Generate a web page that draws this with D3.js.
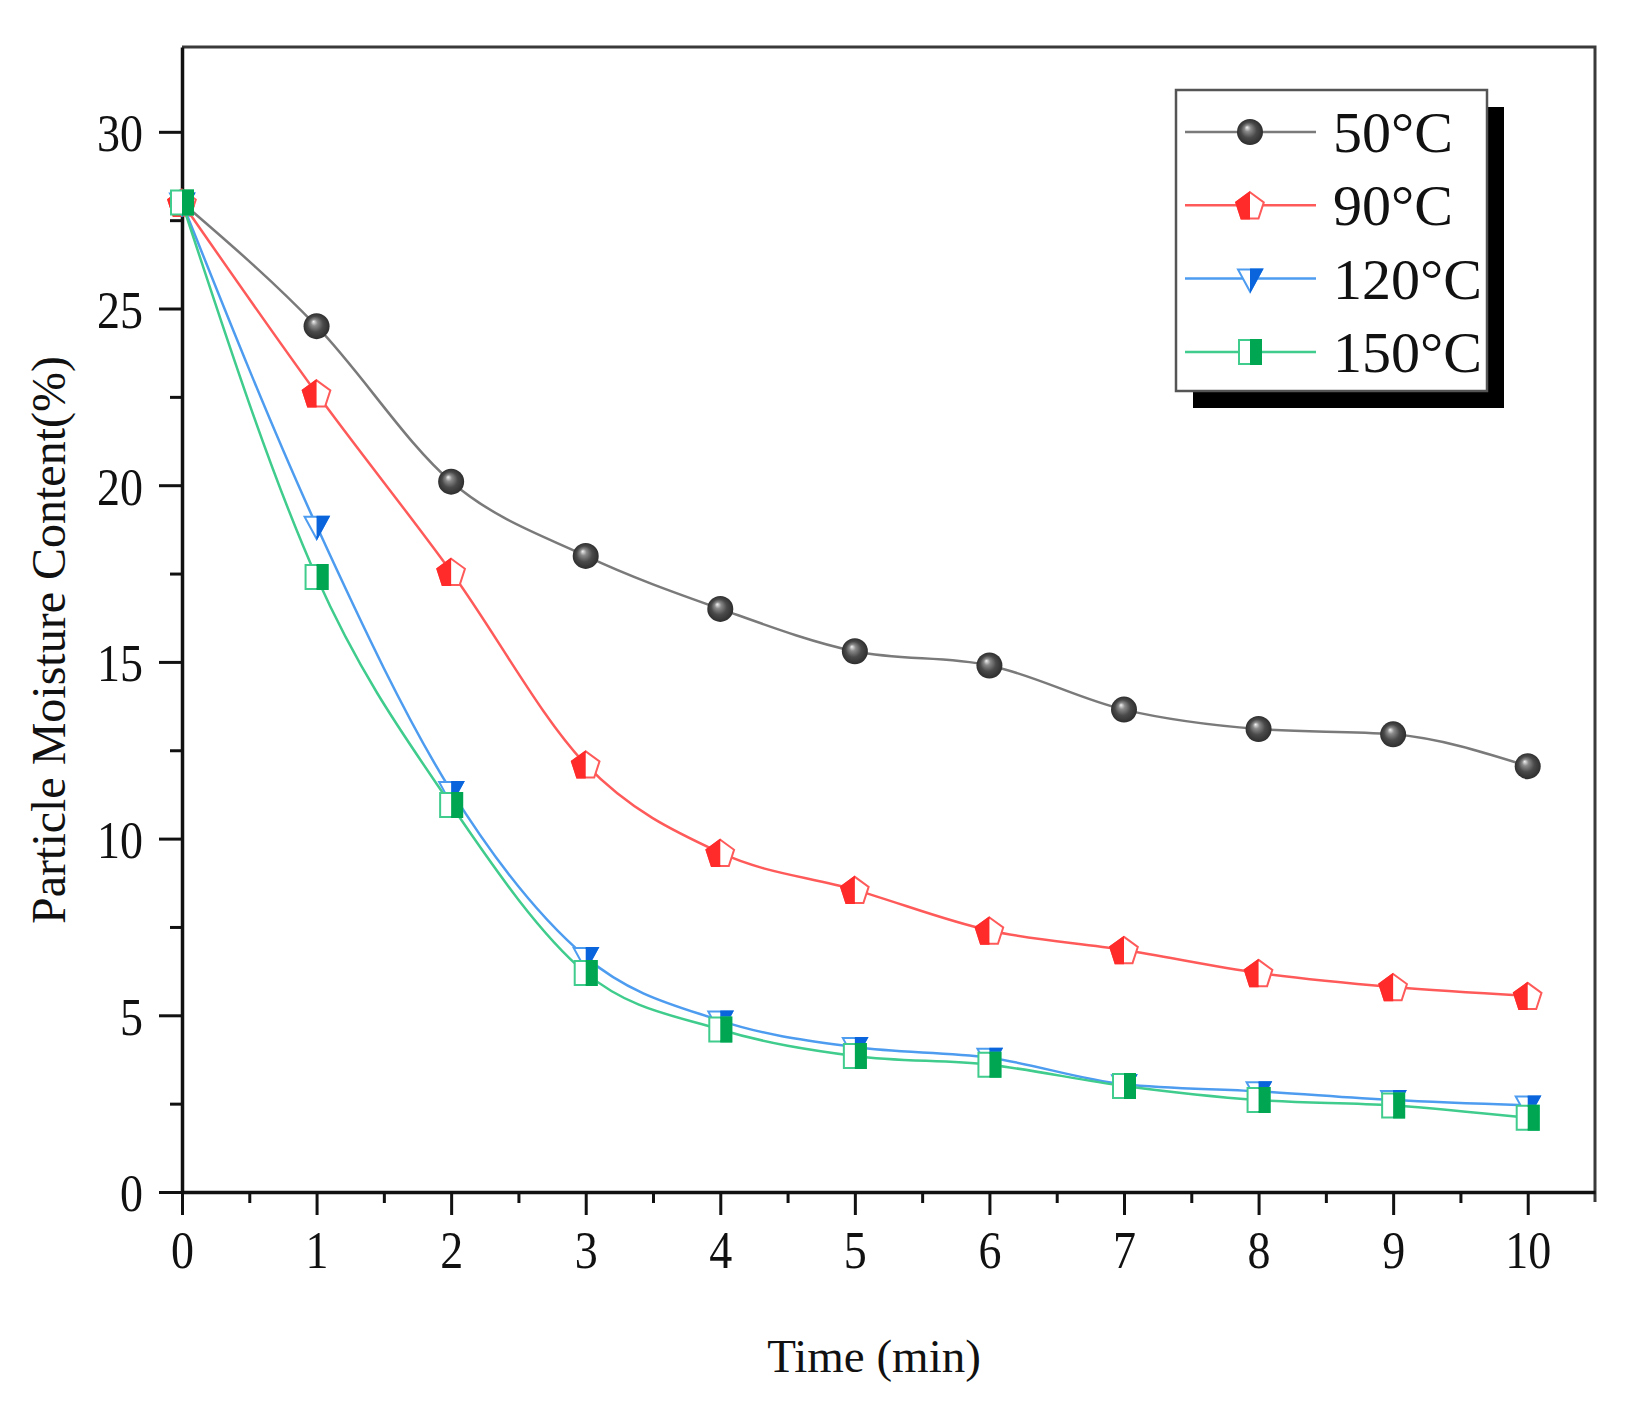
<!DOCTYPE html>
<html>
<head>
<meta charset="utf-8">
<script src="https://cdn.jsdelivr.net/npm/d3@7"></script>
<style>
  html, body { margin: 0; padding: 0; background: #fff; }
  svg { display: block; font-family: "Liberation Serif", "Times New Roman", serif; }
</style>
</head>
<body>
<svg id="chart" width="1631" height="1415"></svg>
<script>
// time in minutes
const times = [0, 1, 2, 3, 4, 5, 6, 7, 8, 9, 10];
// particle moisture content (%) for each drying temperature
const m50 = [28.0, 24.5, 20.1, 18.0, 16.5, 15.3, 14.9, 13.65, 13.1, 12.95, 12.05];
const m90 = [28.0, 22.6, 17.55, 12.1, 9.6, 8.55, 7.4, 6.85, 6.2, 5.8, 5.55];
const m120 = [28.0, 18.85, 11.35, 6.65, 4.85, 4.1, 3.8, 3.05, 2.85, 2.6, 2.45];
const m150 = [28.0, 17.4, 10.95, 6.2, 4.6, 3.85, 3.6, 3.0, 2.6, 2.45, 2.1];
const seriesNames = ["50°C", "90°C", "120°C", "150°C"];
const xTicks = [0, 1, 2, 3, 4, 5, 6, 7, 8, 9, 10];
const yTicks = [0, 5, 10, 15, 20, 25, 30];

const styles = [
  { line: "#7a7a7a", fill: "#3c3c3c", shape: "sphere" },
  { line: "#ff5a5a", fill: "#ff2b2b", shape: "pentagon", half: "left" },
  { line: "#4d9cf0", fill: "#0a64dc", shape: "triangle", half: "right" },
  { line: "#3fcc8c", fill: "#00a651", shape: "square", half: "right" },
];

const series = [m50, m90, m120, m150].map((vals, i) => ({
  name: seriesNames[i],
  style: styles[i],
  points: vals.map((v, j) => ({ t: times[j], v })),
}));

const dims = { left: 182, right: 1595, top: 47, bottom: 1192 };

const svg = d3.select("#chart");
const defs = svg.append("defs");

const grad = defs.append("radialGradient")
  .attr("id", "sphere-grad")
  .attr("cx", "0.5").attr("cy", "0.5").attr("r", "0.5")
  .attr("fx", "0.38").attr("fy", "0.32");
grad.append("stop").attr("offset", "0").attr("stop-color", "#f2f2f2");
grad.append("stop").attr("offset", "0.25").attr("stop-color", "#8a8a8a");
grad.append("stop").attr("offset", "0.6").attr("stop-color", "#4a4a4a");
grad.append("stop").attr("offset", "1").attr("stop-color", "#2e2e2e");

defs.append("clipPath").attr("id", "half-left")
  .append("rect").attr("x", -30).attr("y", -30).attr("width", 30).attr("height", 60);
defs.append("clipPath").attr("id", "half-right")
  .append("rect").attr("x", 0).attr("y", -30).attr("width", 30).attr("height", 60);

const x = d3.scaleLinear().domain([0, 10.5]).range([dims.left, dims.right]);
const y = d3.scaleLinear().domain([0, 32.4]).range([dims.bottom, dims.top]);

// frame (top and right)
svg.append("path")
  .attr("d", `M${dims.left},${dims.top}H${dims.right}V${dims.bottom + 10}`)
  .attr("fill", "none")
  .attr("stroke", "#3a3a3a")
  .attr("stroke-width", 3);

function stretchLabels(g, dx, dy, anchor) {
  g.selectAll(".tick text")
    .attr("x", 0).attr("y", 0).attr("dy", anchor === "end" ? "0.36em" : 0)
    .attr("text-anchor", anchor)
    .attr("transform", `translate(${dx},${dy}) scale(1,1.14)`)
    .attr("font-size", 46)
    .attr("font-family", "Liberation Serif, Times New Roman, serif")
    .attr("fill", "#111");
}

// minor ticks
svg.append("g")
  .attr("transform", `translate(0,${dims.bottom})`)
  .call(d3.axisBottom(x).tickValues(d3.range(0.5, 10.5, 1)).tickSize(11).tickFormat("").tickSizeOuter(0))
  .call((g) => g.select(".domain").remove())
  .call((g) => g.selectAll("line").attr("stroke", "#111").attr("stroke-width", 3));
svg.append("g")
  .attr("transform", `translate(${dims.left},0)`)
  .call(d3.axisLeft(y).tickValues(d3.range(2.5, 32.4, 5)).tickSize(12).tickFormat("").tickSizeOuter(0))
  .call((g) => g.select(".domain").remove())
  .call((g) => g.selectAll("line").attr("stroke", "#111").attr("stroke-width", 3));

// major axes
svg.append("g")
  .attr("transform", `translate(0,${dims.bottom})`)
  .call(d3.axisBottom(x).tickValues(xTicks).tickSize(23).tickSizeOuter(0))
  .call((g) => g.select(".domain").attr("stroke", "#111").attr("stroke-width", 3.5))
  .call((g) => g.selectAll("line").attr("stroke", "#111").attr("stroke-width", 3))
  .call((g) => stretchLabels(g, 0, 76, "middle"));
svg.append("g")
  .attr("transform", `translate(${dims.left},0)`)
  .call(d3.axisLeft(y).tickValues(yTicks).tickSize(23).tickSizeOuter(0))
  .call((g) => g.select(".domain").attr("stroke", "#111").attr("stroke-width", 3.5))
  .call((g) => g.selectAll("line").attr("stroke", "#111").attr("stroke-width", 3))
  .call((g) => stretchLabels(g, -39, 0, "end"));

// axis titles
svg.append("text")
  .attr("x", 874).attr("y", 1372)
  .attr("text-anchor", "middle")
  .attr("font-size", 47)
  .attr("fill", "#111")
  .text("Time (min)");
svg.append("text")
  .attr("transform", "translate(65,640) rotate(-90)")
  .attr("text-anchor", "middle")
  .attr("font-size", 48)
  .attr("fill", "#111")
  .text("Particle Moisture Content(%)");

function drawMarker(g, style) {
  if (style.shape === "sphere") {
    g.append("circle").attr("r", 13).attr("fill", "url(#sphere-grad)");
    return;
  }
  let d;
  if (style.shape === "pentagon") {
    const pts = d3.range(5).map((k) => {
      const a = -Math.PI / 2 + (k * 2 * Math.PI) / 5;
      return [14.5 * Math.cos(a), 14.5 * Math.sin(a) + 1.5];
    });
    d = d3.line()(pts) + "Z";
  } else if (style.shape === "triangle") {
    d = "M-12,-9L12,-9L0,13Z";
  } else {
    d = "M-11,-12H11V12H-11Z";
  }
  g.append("path").attr("d", d)
    .attr("fill", "#fff")
    .attr("stroke", style.line)
    .attr("stroke-width", 2);
  g.append("path").attr("d", d)
    .attr("fill", style.fill)
    .attr("stroke", style.fill)
    .attr("stroke-width", 2)
    .attr("clip-path", `url(#half-${style.half})`);
}

const line = d3.line()
  .x((d) => x(d.t))
  .y((d) => y(d.v))
  .curve(d3.curveMonotoneX);

const gSeries = svg.append("g").attr("class", "series");
series.forEach((s) => {
  const g = gSeries.append("g");
  g.append("path")
    .attr("d", line(s.points))
    .attr("fill", "none")
    .attr("stroke", s.style.line)
    .attr("stroke-width", 2.5);
  g.selectAll(".marker")
    .data(s.points)
    .join("g")
    .attr("class", "marker")
    .attr("transform", (d) => `translate(${x(d.t)},${y(d.v)})`)
    .each(function () { drawMarker(d3.select(this), s.style); });
});

// legend
const legend = svg.append("g").attr("class", "legend");
legend.append("rect")
  .attr("x", 1193).attr("y", 107).attr("width", 311).attr("height", 301)
  .attr("fill", "#000");
legend.append("rect")
  .attr("x", 1176).attr("y", 90).attr("width", 311).attr("height", 301)
  .attr("fill", "#fff")
  .attr("stroke", "#555")
  .attr("stroke-width", 2.5);
series.forEach((s, i) => {
  const cy = 132 + i * 73.3;
  const row = legend.append("g").attr("transform", `translate(0,${cy})`);
  row.append("line")
    .attr("x1", 1185).attr("x2", 1316)
    .attr("stroke", s.style.line)
    .attr("stroke-width", 2.5);
  drawMarker(row.append("g").attr("transform", "translate(1250,0)"), s.style);
  row.append("text")
    .attr("x", 1333).attr("y", 20)
    .attr("font-size", 58)
    .attr("fill", "#111")
    .text(s.name);
});
</script>
</body>
</html>
